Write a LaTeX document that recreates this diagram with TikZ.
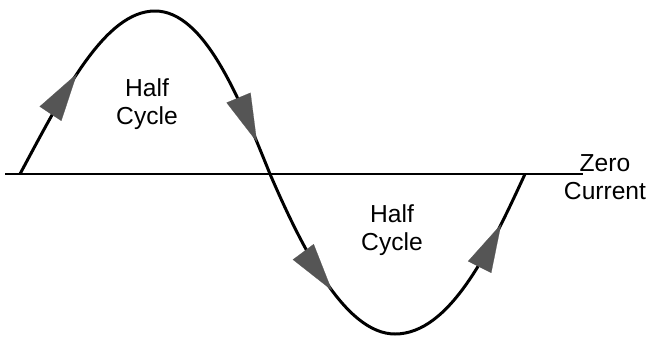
\documentclass[tikz,border=0pt]{standalone}
\usepackage{fontspec}
\setmainfont{Liberation Sans}
\usepackage{xcolor}
\usetikzlibrary{arrows.meta,decorations.markings}

\definecolor{tipgrey}{HTML}{555555}

\begin{document}
\begin{tikzpicture}[
  x=0.2mm, y=-0.2mm,
  wave/.style={line width=1.7pt},
  axisline/.style={line width=0.7pt},
  lbl/.style={align=center, font=\fontsize{14}{16}\selectfont},
  flow/.style={postaction={decorate}, decoration={markings,
    mark=at position 0.135 with {\arrow[tipgrey, line width=0.1pt]{Triangle[length=0.96cm, width=0.52cm]}},
    mark=at position 0.46 with {\arrow[tipgrey, line width=0.1pt]{Triangle[length=0.96cm, width=0.52cm]}},
    mark=at position 0.655 with {\arrow[tipgrey, line width=0.1pt]{Triangle[length=0.96cm, width=0.52cm]}},
    mark=at position 0.935 with {\arrow[tipgrey, line width=0.1pt]{Triangle[length=0.96cm, width=0.52cm]}}}}
]
\useasboundingbox (0,0) rectangle (649,338);

% zero line
\coordinate (zl) at (5,174);
\coordinate (zr) at (583,174);
\draw[axisline] (zl) -- (zr);

% one full cycle
\coordinate (start) at (20,174);
\coordinate (peak) at (155,11);
\coordinate (cross) at (270,174);
\coordinate (trough) at (395,334);
\coordinate (stop) at (525,174);
\draw[wave, flow] (start) .. controls (64,92) and (105,11) .. (peak)
  .. controls (205,11) and (240,100) .. (cross)
  .. controls (302,248) and (345,334) .. (trough)
  .. controls (450,334) and (490,250) .. (stop);

\node[lbl] (upper) at (147,104) {Half\\Cycle};
\node[lbl] (lower) at (392,230) {Half\\Cycle};
\node[lbl] (zero) at (605,177) {Zero\\Current};
\end{tikzpicture}
\end{document}
